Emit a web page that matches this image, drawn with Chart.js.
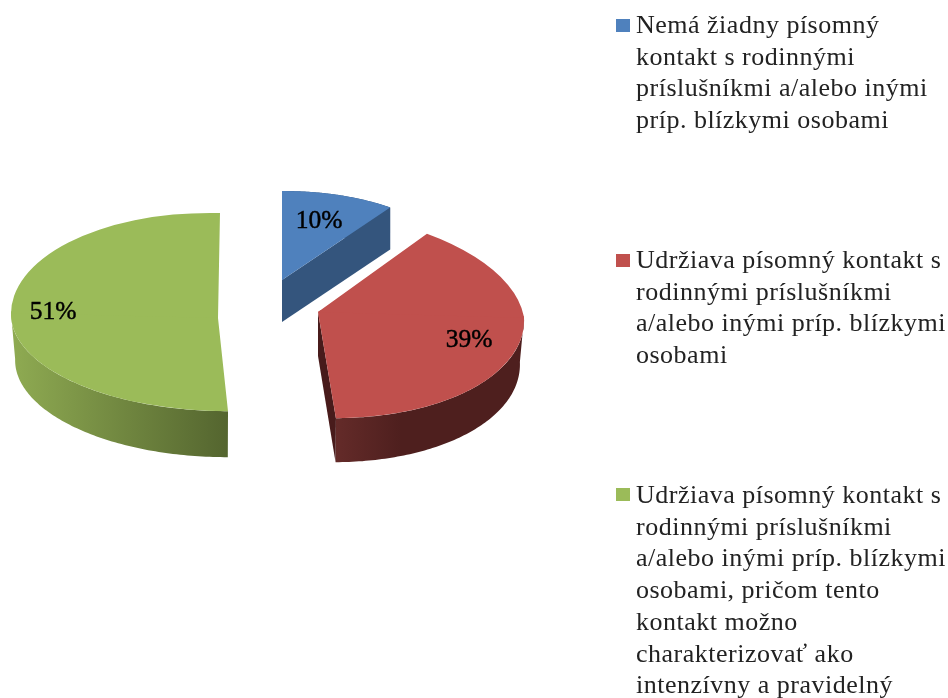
<!DOCTYPE html>
<html>
<head>
<meta charset="utf-8">
<style>
html,body{margin:0;padding:0;background:#fff;overflow:hidden}
#wrap{position:absolute;left:0;top:0;width:948px;height:698px}
canvas{filter:blur(0.5px)}
</style>
<script src="https://cdn.jsdelivr.net/npm/chart.js@4"></script>
</head>
<body>
<div id="wrap"><canvas id="c" width="948" height="698"></canvas></div>
<script>
const categories = [
  ["Nemá žiadny písomný","kontakt s rodinnými","príslušníkmi a/alebo inými","príp. blízkymi osobami"],
  ["Udržiava písomný kontakt s","rodinnými príslušníkmi","a/alebo inými príp. blízkymi","osobami"],
  ["Udržiava písomný kontakt s","rodinnými príslušníkmi","a/alebo inými príp. blízkymi","osobami, pričom tento","kontakt možno","charakterizovať ako","intenzívny a pravidelný"]
];
const values = [10, 39, 51];
const tickLabels = ["10%", "39%", "51%"];
const topColors = ["#4f81bd", "#c0504d", "#9bbb59"];

/* Projection of each slice: where its tip lands and how the unit circle is skewed */
const projection = [
  {ax:282, ay:280, a:184, c:-1, up:{b:0, d:89},  low:{b:0, d:89},  depth:42, taper:1,    wall:["#36587f","#36587f"], face:"#34557d", showFace:true,  frontOnly:false},
  {ax:318, ay:312, a:206, c:6,  up:{b:15,d:101}, low:{b:5, d:106}, depth:44, taper:0.98, wall:["#642b29","#4e1f1e"], face:"#481b1b", showFace:true,  frontOnly:true},
  {ax:218, ay:318, a:207, c:5,  up:{b:-2,d:105}, low:{b:-3,d:93},  depth:46, taper:0.98, wall:["#8fab52","#54652f"], face:"#54652f", showFace:false, frontOnly:true}
];
const labelSpots = [{x:319,y:221},{x:469,y:340},{x:53,y:312}];
const legendSpots = [{sq:19,base:33},{sq:254,base:268},{sq:488,base:503}];
const LEG_FONT = '26px "Liberation Serif"', PCT_FONT = '25.5px "Liberation Serif"';
const LINE = 31.7;

function pt(p, th, extra){
  const ux = Math.sin(th), uy = -Math.cos(th), s = uy < 0 ? p.up : p.low;
  const k = extra ? p.taper : 1;
  return {x: p.ax + (p.a*ux + s.b*uy)*k, y: p.ay + p.c*ux + s.d*uy + (extra ? p.depth : 0)};
}
function poly(ctx, pts, fill){
  ctx.beginPath();
  pts.forEach((q,i)=> i ? ctx.lineTo(q.x,q.y) : ctx.moveTo(q.x,q.y));
  ctx.closePath(); ctx.fillStyle = fill; ctx.fill();
}
const pie3d = {
  id:'pie3d',
  beforeDatasetsDraw(chart){
    const ctx = chart.ctx, arcs = chart.getDatasetMeta(0).data;
    arcs.forEach((el,i)=>{
      const p = projection[i];
      const t0 = el.startAngle + Math.PI/2, t1 = el.endAngle + Math.PI/2;
      /* the outer wall is only seen on the near half of the rim */
      const w0 = p.frontOnly ? Math.max(t0, Math.PI/2) : t0;
      const w1 = p.frontOnly ? Math.min(t1, Math.PI*1.5) : t1;
      const top = [], bot = [];
      for(let k=0;k<=90;k++){
        const th = w0 + (w1-w0)*k/90;
        top.push(pt(p,th,false)); bot.push(pt(p,th,true));
      }
      const tip = {x:p.ax,y:p.ay}, tipB = {x:p.ax,y:p.ay+p.depth};
      const xs = top.concat(bot).map(q=>q.x);
      const g = ctx.createLinearGradient(Math.min(...xs),0,Math.max(...xs),0);
      const flip = i===1;
      g.addColorStop(0, p.wall[0]); g.addColorStop(flip?0.35:1, p.wall[1]);
      if(flip) g.addColorStop(1, p.wall[1]);
      poly(ctx, top.concat(bot.slice().reverse()), g);
      /* cut face towards the viewer */
      if(p.showFace) poly(ctx,[tip,pt(p,t1,false),pt(p,t1,true),tipB],p.face);
      /* top surface: the library's arc, drawn once per half under its own skew */
      const R = el.outerRadius, cx = el.x, cy = el.y;
      [p.low,p.up].forEach((s,half)=>{
        ctx.save();
        const A=p.a/R, C=p.c/R, B=s.b/R, D=s.d/R;
        ctx.transform(A,C,B,D,p.ax-A*cx-B*cy,p.ay-C*cx-D*cy);
        ctx.beginPath();
        if(half===1) ctx.rect(cx-R-4,cy-R-4,2*R+8,R+4);
        else ctx.rect(cx-R-4,cy-6,2*R+8,R+10);
        ctx.clip();
        el.draw(ctx);
        ctx.restore();
      });
    });
    return false;
  },
  afterDraw(chart){
    const ctx = chart.ctx;
    ctx.save();
    ctx.fillStyle = '#000'; ctx.strokeStyle = '#000'; ctx.lineWidth = 0.45;
    ctx.textBaseline = 'middle'; ctx.textAlign = 'center'; ctx.font = PCT_FONT;
    tickLabels.forEach((t,i)=>{
      ctx.fillText(t,labelSpots[i].x,labelSpots[i].y);
      ctx.strokeText(t,labelSpots[i].x,labelSpots[i].y);
    });
    ctx.textBaseline = 'alphabetic'; ctx.textAlign = 'left'; ctx.font = LEG_FONT;
    ctx.letterSpacing = '0.5px';
    chart.data.labels.forEach((lines,i)=>{
      const s = legendSpots[i];
      ctx.fillStyle = topColors[i];
      ctx.fillRect(616,s.sq,14,13);
      ctx.fillStyle = '#222';
      lines.forEach((l,j)=> ctx.fillText(l,636,s.base+j*LINE));
    });
    ctx.restore();
  }
};
new Chart(document.getElementById('c'),{
  type:'pie',
  data:{labels:categories,datasets:[{data:values,backgroundColor:topColors,borderWidth:0}]},
  options:{responsive:false,animation:false,
    plugins:{legend:{display:false},tooltip:{enabled:false}}},
  plugins:[pie3d]
});
</script>
</body>
</html>
